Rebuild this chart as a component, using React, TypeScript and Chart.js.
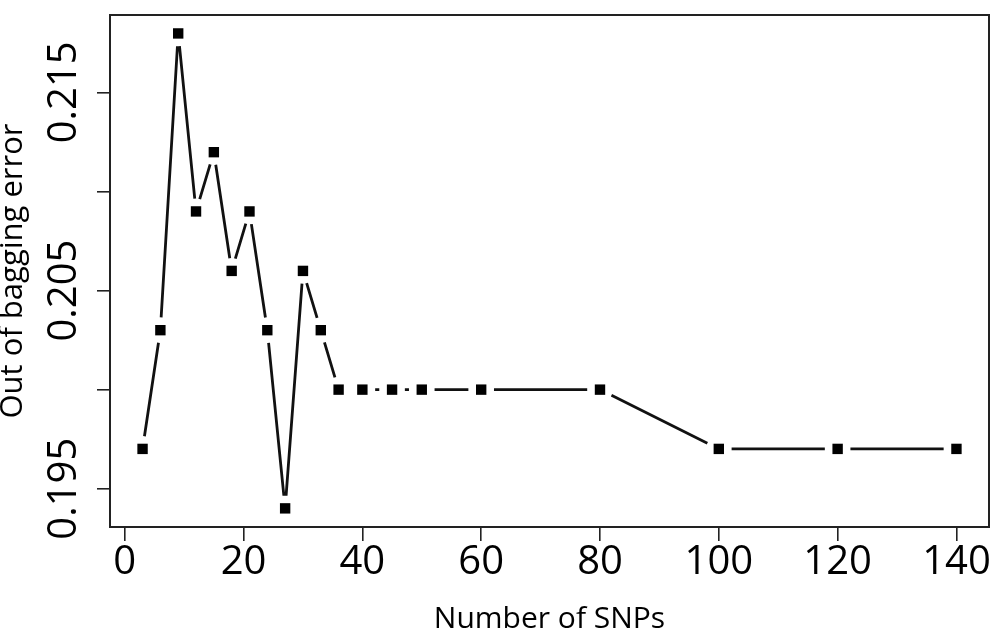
import React, { useEffect, useRef } from "react";
import { Chart, registerables } from "chart.js";

Chart.register(...registerables);

const snpCounts = [3, 6, 9, 12, 15, 18, 21, 24, 27, 30, 33, 36, 40, 45, 50, 60, 80, 100, 120, 140];
const oobError = [
  0.19701, 0.203, 0.21797, 0.20899, 0.21198, 0.20599, 0.20899, 0.203, 0.19401, 0.20599,
  0.203, 0.2, 0.2, 0.2, 0.2, 0.2, 0.2, 0.19701, 0.19701, 0.19701,
];
const xTicks = [0, 20, 40, 60, 80, 100, 120, 140];
const yTicks = [0.195, 0.2, 0.205, 0.21, 0.215];
const yTickLabels = ["0.195", "", "0.205", "", "0.215"];

const FONT = "'Open Sans', 'Noto Sans', sans-serif";
const GAP = 12.8;

const gapLines = {
  id: "gapLines",
  beforeDatasetsDraw(chart: any) {
    const pts = chart.getDatasetMeta(0).data;
    const ctx = chart.ctx;
    ctx.save();
    ctx.strokeStyle = "#111";
    ctx.lineWidth = 2.8;
    ctx.lineCap = "butt";
    ctx.beginPath();
    for (let i = 0; i < pts.length - 1; i++) {
      const a = pts[i];
      const b = pts[i + 1];
      const dx = b.x - a.x;
      const dy = b.y - a.y;
      const d = Math.hypot(dx, dy);
      if (d <= 2 * GAP) continue;
      const ux = dx / d;
      const uy = dy / d;
      ctx.moveTo(a.x + ux * GAP, a.y + uy * GAP);
      ctx.lineTo(b.x - ux * GAP, b.y - uy * GAP);
    }
    ctx.stroke();
    ctx.restore();
  },
  afterDraw(chart: any) {
    const ctx = chart.ctx;
    const ca = chart.chartArea;
    ctx.save();
    ctx.strokeStyle = "#222";
    ctx.lineWidth = 2;
    ctx.strokeRect(ca.left, ca.top, ca.right - ca.left, ca.bottom - ca.top);
    const ys = chart.scales.y;
    ctx.fillStyle = "#000";
    ctx.font = `40px ${FONT}`;
    ctx.textAlign = "center";
    ctx.textBaseline = "middle";
    yTicks.forEach((v, i) => {
      const lbl = yTickLabels[i];
      if (!lbl) return;
      const py = ys.getPixelForValue(v);
      ctx.save();
      ctx.translate(65, py);
      ctx.rotate(-Math.PI / 2);
      ctx.fillText(lbl, 0, 0);
      ctx.restore();
    });
    ctx.restore();
  },
};

export default function App() {
  const ref = useRef<HTMLCanvasElement | null>(null);
  useEffect(() => {
    if (!ref.current) return;
    const chart = new Chart(ref.current, {
      type: "scatter",
      data: {
        datasets: [
          {
            data: snpCounts.map((x, i) => ({ x, y: oobError[i] })),
            showLine: false,
            pointStyle: "rect",
            pointRadius: 7.35,
            pointHoverRadius: 7.35,
            backgroundColor: "#000",
            borderColor: "#000",
            borderWidth: 0,
          },
        ],
      },
      options: {
        responsive: false,
        animation: false,
        layout: { padding: { left: 0, top: 15, right: 16, bottom: 0 } },
        plugins: { legend: { display: false }, tooltip: { enabled: false } },
        scales: {
          x: {
            type: "linear",
            min: -2.48,
            max: 145.48,
            afterBuildTicks: (s: any) => {
              s.ticks = xTicks.map((v) => ({ value: v }));
            },
            afterFit: (s: any) => {
              s.height = 116;
            },
            border: { display: false },
            grid: { drawOnChartArea: false, drawTicks: true, tickLength: 14, tickColor: "#222", lineWidth: 1.6 },
            ticks: {
              color: "#000",
              font: { family: FONT, size: 40, lineHeight: 1 },
              padding: 2,
              maxRotation: 0,
              autoSkip: false,
              callback: (v: any) => String(v),
            },
            title: {
              display: true,
              text: "Number of SNPs",
              color: "#000",
              font: { family: FONT, size: 30, lineHeight: 1.2 },
              padding: { top: 0, bottom: 6 },
            },
          },
          y: {
            type: "linear",
            min: 0.19307,
            max: 0.2189,
            afterBuildTicks: (s: any) => {
              s.ticks = yTicks.map((v) => ({ value: v }));
            },
            afterFit: (s: any) => {
              s.width = 110;
            },
            border: { display: false },
            grid: { drawOnChartArea: false, drawTicks: true, tickLength: 13, tickColor: "#222", lineWidth: 1.6 },
            ticks: { display: true, callback: () => "", autoSkip: false },
            title: {
              display: true,
              text: "Out of bagging error",
              color: "#000",
              font: { family: FONT, size: 31, lineHeight: 0.85 },
              padding: 0,
            },
          },
        },
      },
      plugins: [gapLines],
    });
    return () => chart.destroy();
  }, []);
  return (
    <div style={{ position: "absolute", left: 0, top: 0, width: 1005, height: 643, background: "#fff" }}>
      <canvas ref={ref} width={1005} height={643} />
    </div>
  );
}
